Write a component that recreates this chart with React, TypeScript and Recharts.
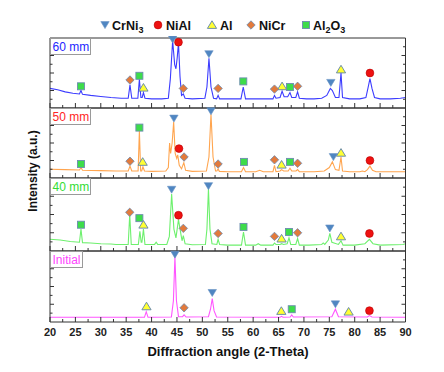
import React from 'react';
import { ComposedChart, Line, Scatter, XAxis, YAxis } from 'recharts';

type P = [number, number];

const FONT = "Arial, 'Liberation Sans', Helvetica, sans-serif";
const FRAME = '#333333';

const xTicks = [20, 22.5, 25, 27.5, 30, 32.5, 35, 37.5, 40, 42.5, 45, 47.5, 50, 52.5, 55, 57.5, 60, 62.5, 65, 67.5, 70, 72.5, 75, 77.5, 80, 82.5, 85, 87.5, 90];
const yTicks = [0.125, 0.25, 0.375, 0.5, 0.625, 0.75, 0.875];

const panelNames = ['60 mm', '50 mm', '40 mm', 'Initial'];
const lineColors = ['#3c3cff', '#ffa54f', '#6ef06e', '#ff55ff'];
const labelColors = ['#2424ff', '#ff2424', '#33dd33', '#ff44ff'];
const panelTops = [38, 108, 178, 251];
const panelHeights = [70, 70, 73, 71];
const labelBoxWidths = [40, 40, 40, 32];

const phaseNames = ['CrNi3', 'NiAl', 'Al', 'NiCr', 'Al2O3'];

// ---- XRD patterns (2θ, normalized intensity within panel) ----
const line60: P[] = [
  [20, 0.28], [21.5, 0.26], [23, 0.23], [24.5, 0.21], [25.8, 0.2], [26.1, 0.25], [26.4, 0.195], [28, 0.18], [30, 0.165], [32, 0.15], [34, 0.14],
  [35.4, 0.14], [35.75, 0.33], [36.1, 0.14], [37.3, 0.14], [37.6, 0.41], [37.9, 0.15], [38.15, 0.15], [38.4, 0.22], [38.7, 0.14],
  [40, 0.13], [42, 0.13], [43.3, 0.14], [43.7, 0.42], [44.15, 0.96], [44.55, 0.62], [44.8, 0.56], [45.05, 0.72], [45.3, 0.93], [45.6, 0.45],
  [45.9, 0.18], [46.25, 0.2], [46.6, 0.14], [48, 0.13], [50.5, 0.14], [50.9, 0.3], [51.3, 0.71], [51.7, 0.3], [52.2, 0.14], [52.8, 0.13],
  [53.1, 0.18], [53.4, 0.13], [55, 0.13], [57.6, 0.13], [58.05, 0.3], [58.5, 0.13], [60, 0.13], [62, 0.13], [63.9, 0.13], [64.2, 0.18],
  [64.5, 0.14], [65.3, 0.15], [65.7, 0.24], [66.1, 0.16], [66.8, 0.16], [67.25, 0.22], [67.6, 0.15], [68.4, 0.15], [68.75, 0.23], [69.1, 0.14],
  [70.5, 0.13], [72, 0.13], [73.5, 0.14], [74.5, 0.18], [75.2, 0.28], [75.6, 0.25], [76.2, 0.15], [76.9, 0.15], [77.3, 0.5], [77.6, 0.15],
  [79, 0.13], [81, 0.13], [82.2, 0.15], [82.6, 0.28], [83, 0.42], [83.4, 0.28], [83.9, 0.15], [85, 0.13], [87, 0.13], [89, 0.14], [90, 0.15],
];
const line50: P[] = [
  [20, 0.125], [23, 0.12], [25.8, 0.115], [26.1, 0.15], [26.4, 0.11], [30, 0.105], [33, 0.1], [35.4, 0.1], [35.75, 0.17], [36.1, 0.1],
  [37.35, 0.1], [37.6, 0.67], [37.85, 0.1], [38.05, 0.1], [38.3, 0.16], [38.6, 0.1], [40, 0.095], [42.8, 0.1], [43.3, 0.15], [43.55, 0.5],
  [43.75, 0.35], [44.05, 0.5], [44.35, 0.8], [44.65, 0.35], [44.95, 0.28], [45.15, 0.33], [45.45, 0.18], [45.9, 0.13], [46.35, 0.22],
  [46.7, 0.11], [48, 0.095], [50.8, 0.1], [51.3, 0.3], [51.7, 0.91], [52.1, 0.3], [52.6, 0.1], [52.85, 0.1], [53.1, 0.13], [53.35, 0.095],
  [55, 0.09], [57.7, 0.09], [58.1, 0.15], [58.5, 0.09], [60.5, 0.09], [61.3, 0.11], [62, 0.09], [63.9, 0.09], [64.2, 0.18], [64.5, 0.09],
  [65.3, 0.1], [65.6, 0.12], [66, 0.1], [66.9, 0.1], [67.25, 0.14], [67.6, 0.1], [68.45, 0.1], [68.75, 0.12], [69.1, 0.09], [72, 0.09],
  [74, 0.1], [75, 0.15], [75.6, 0.23], [76.2, 0.12], [76.9, 0.11], [77.3, 0.3], [77.6, 0.1], [79, 0.09], [81, 0.09], [81.5, 0.1], [82, 0.09],
  [82.5, 0.12], [83, 0.17], [83.5, 0.11], [84.2, 0.09], [90, 0.09],
];
const line40: P[] = [
  [20, 0.16], [22, 0.15], [24, 0.13], [25.8, 0.12], [26.1, 0.3], [26.4, 0.115], [28, 0.11], [30, 0.1], [32, 0.095], [33, 0.09], [35.4, 0.09],
  [35.7, 0.5], [36, 0.09], [37.4, 0.09], [37.7, 0.27], [37.95, 0.12], [38.1, 0.12], [38.4, 0.3], [38.7, 0.09], [40.6, 0.09], [40.9, 0.12],
  [41.2, 0.09], [43, 0.09], [43.5, 0.2], [43.95, 0.78], [44.4, 0.3], [44.8, 0.18], [45.3, 0.43], [45.8, 0.22], [46, 0.14], [46.25, 0.21],
  [46.6, 0.1], [48, 0.085], [50.6, 0.09], [50.9, 0.3], [51.2, 0.85], [51.5, 0.3], [51.9, 0.1], [52.85, 0.09], [53.1, 0.16], [53.4, 0.09],
  [55, 0.08], [57.7, 0.08], [58.1, 0.26], [58.5, 0.08], [60.5, 0.08], [61, 0.1], [61.5, 0.08], [63.9, 0.08], [64.2, 0.11], [64.5, 0.09],
  [65.3, 0.09], [65.6, 0.1], [66, 0.09], [66.7, 0.1], [67.06, 0.18], [67.4, 0.09], [68.4, 0.09], [68.75, 0.17], [69.1, 0.08], [71, 0.08],
  [73.5, 0.09], [73.8, 0.11], [74.1, 0.09], [74.8, 0.15], [75.1, 0.24], [75.5, 0.12], [76.8, 0.09], [77.3, 0.14], [77.7, 0.08], [80, 0.08],
  [82, 0.1], [82.9, 0.16], [83.6, 0.1], [85, 0.08], [89.5, 0.09], [90, 0.1],
];
const lineInitial: P[] = [
  [20, 0.066], [38.6, 0.066], [38.95, 0.145], [39.3, 0.066], [43.9, 0.07], [44.3, 0.3], [44.6, 0.92], [44.9, 0.3], [45.3, 0.075], [46.1, 0.075],
  [46.4, 0.1], [46.8, 0.07], [51.2, 0.075], [51.6, 0.18], [51.95, 0.33], [52.3, 0.16], [52.8, 0.07], [65.3, 0.066], [65.55, 0.08], [65.9, 0.066],
  [67.3, 0.07], [67.6, 0.1], [67.9, 0.07], [75.5, 0.075], [76.2, 0.18], [76.8, 0.075], [82.5, 0.07], [82.9, 0.09], [83.4, 0.07], [90, 0.066],
];

// ---- phase markers per panel ----
const crni3_60: P[] = [[44.15, 0.98], [51.3, 0.77], [75.3, 0.36]];
const nial_60: P[] = [[45.3, 0.94], [83.0, 0.5]];
const al_60: P[] = [[38.4, 0.29], [65.7, 0.31], [77.3, 0.55]];
const nicr_60: P[] = [[35.75, 0.4], [46.25, 0.28], [53.1, 0.28], [64.2, 0.27], [68.75, 0.31]];
const al2o3_60: P[] = [[26.1, 0.31], [37.6, 0.46], [58.06, 0.38], [67.25, 0.3]];

const crni3_50: P[] = [[44.4, 0.85], [51.7, 0.955], [75.8, 0.3]];
const nial_50: P[] = [[45.4, 0.42], [83.0, 0.25]];
const al_50: P[] = [[38.25, 0.23], [65.6, 0.19], [77.3, 0.36]];
const nicr_50: P[] = [[35.75, 0.24], [46.4, 0.3], [53.1, 0.2], [64.2, 0.26], [68.75, 0.21]];
const al2o3_50: P[] = [[26.1, 0.2], [37.6, 0.72], [58.2, 0.23], [67.25, 0.23]];

const crni3_40: P[] = [[43.95, 0.84], [51.2, 0.89], [75.1, 0.31]];
const nial_40: P[] = [[45.3, 0.49], [82.9, 0.24]];
const al_40: P[] = [[38.4, 0.36], [65.6, 0.17], [77.3, 0.2]];
const nicr_40: P[] = [[35.7, 0.53], [46.25, 0.31], [53.1, 0.24], [64.2, 0.2], [68.75, 0.25]];
const al2o3_40: P[] = [[26.1, 0.36], [37.6, 0.45], [58.1, 0.33], [67.06, 0.26]];

const crni3_init: P[] = [[44.6, 0.95], [51.95, 0.41], [76.2, 0.25]];
const nial_init: P[] = [[82.9, 0.16]];
const al_init: P[] = [[39.0, 0.22], [65.55, 0.155], [78.8, 0.145]];
const nicr_init: P[] = [[46.4, 0.2]];
const al2o3_init: P[] = [[67.6, 0.18]];

const panelLines = [line60, line50, line40, lineInitial];
const panelMarkers: P[][][] = [
  [crni3_60, nial_60, al_60, nicr_60, al2o3_60],
  [crni3_50, nial_50, al_50, nicr_50, al2o3_50],
  [crni3_40, nial_40, al_40, nicr_40, al2o3_40],
  [crni3_init, nial_init, al_init, nicr_init, al2o3_init],
];

const toObj = (arr: P[]) => arr.map(([x, y]) => ({ x, y }));

// ---- marker shapes ----
const MarkerShape = ({ phase, cx, cy }: { phase: number; cx: number; cy: number }) => {
  if (cx == null || cy == null) return null;
  switch (phase) {
    case 0:
      return <polygon points={`${cx - 4.2},${cy - 3.4} ${cx + 4.2},${cy - 3.4} ${cx},${cy + 3.6}`} fill="#4f86c2" stroke="#6a94c4" strokeWidth={0.6} />;
    case 1:
      return <circle cx={cx} cy={cy} r={3.9} fill="#ee1111" stroke="#b80000" strokeWidth={0.6} />;
    case 2:
      return <polygon points={`${cx},${cy - 4.2} ${cx + 4.6},${cy + 3.4} ${cx - 4.6},${cy + 3.4}`} fill="#ffff33" stroke="#5d82ab" strokeWidth={0.9} />;
    case 3:
      return <polygon points={`${cx},${cy - 4.2} ${cx + 4.2},${cy} ${cx},${cy + 4.2} ${cx - 4.2},${cy}`} fill="#e27a3c" stroke="#6d8cb0" strokeWidth={0.8} />;
    default:
      return <rect x={cx - 3.5} y={cy - 3.5} width={7} height={7} fill="#3ddc4a" stroke="#6d8cb0" strokeWidth={0.9} />;
  }
};

// ---- ticks ----
const isMajorX = (v: number) => Math.abs(v / 5 - Math.round(v / 5)) < 1e-6;
const isMajorY = (v: number) => Math.abs(v * 4 - Math.round(v * 4)) < 1e-6;

const XTickBottom = (props: any) => {
  const { x, y, payload, showLabel } = props;
  const major = isMajorX(payload.value);
  return (
    <g>
      <line x1={x} x2={x} y1={y} y2={y - (major ? 5 : 3)} stroke={FRAME} strokeWidth={1} />
      {showLabel && major ? (
        <text x={x} y={y + 14} textAnchor="middle" fontSize={11} fontWeight="bold" fill="#222" fontFamily={FONT}>
          {payload.value}
        </text>
      ) : null}
    </g>
  );
};
const XTickTop = (props: any) => {
  const { x, y, payload } = props;
  const major = isMajorX(payload.value);
  return <line x1={x} x2={x} y1={y} y2={y + (major ? 5 : 3)} stroke={FRAME} strokeWidth={1} />;
};
const YTickLeft = (props: any) => {
  const { x, y, payload } = props;
  const major = isMajorY(payload.value);
  return <line x1={x} x2={x + (major ? 4 : 2.5)} y1={y} y2={y} stroke={FRAME} strokeWidth={1} />;
};
const YTickRight = (props: any) => {
  const { x, y, payload } = props;
  const major = isMajorY(payload.value);
  return <line x1={x} x2={x - (major ? 4 : 2.5)} y1={y} y2={y} stroke={FRAME} strokeWidth={1} />;
};

const Panel = ({ index }: { index: number }) => {
  const h = panelHeights[index];
  const last = index === 3;
  const extra = last ? 48 : 0;
  const lineData = toObj(panelLines[index]);
  return (
    <div style={{ position: 'absolute', left: 0, top: panelTops[index] - 2 }}>
      <ComposedChart width={444} height={h + 4 + extra} margin={{ top: 1, right: 37.5, bottom: 1 + extra, left: 49 }}>
        <XAxis
          xAxisId="b" type="number" dataKey="x" domain={[20, 90]} ticks={xTicks} interval={0}
          height={1} tickSize={0} tickMargin={0} tickLine={false}
          axisLine={{ stroke: FRAME, strokeWidth: 1 }}
          tick={(p: any) => <XTickBottom {...p} showLabel={last} />}
        />
        <XAxis
          xAxisId="t" orientation="top" type="number" domain={[20, 90]} allowDataOverflow ticks={xTicks} interval={0}
          height={1} tickSize={0} tickMargin={0} tickLine={false}
          axisLine={{ stroke: FRAME, strokeWidth: 1 }}
          tick={(p: any) => <XTickTop {...p} />}
        />
        <YAxis
          yAxisId="l" type="number" dataKey="y" domain={[0, 1]} ticks={yTicks} interval={0}
          width={1} tickSize={0} tickMargin={0} tickLine={false}
          axisLine={{ stroke: FRAME, strokeWidth: 1 }}
          tick={(p: any) => <YTickLeft {...p} />}
        />
        <YAxis
          yAxisId="r" orientation="right" type="number" domain={[0, 1]} allowDataOverflow ticks={yTicks} interval={0}
          width={1} tickSize={0} tickMargin={0} tickLine={false}
          axisLine={{ stroke: FRAME, strokeWidth: 1 }}
          tick={(p: any) => <YTickRight {...p} />}
        />
        <Line
          xAxisId="b" yAxisId="l" data={lineData} dataKey="y" type="linear"
          stroke={lineColors[index]} strokeWidth={1.1} dot={false} isAnimationActive={false}
        />
        {panelMarkers[index].map((m, k) => (
          <Scatter
            key={phaseNames[k]} xAxisId="b" yAxisId="l" data={toObj(m)} dataKey="y"
            isAnimationActive={false}
            shape={(p: any) => <MarkerShape phase={k} cx={p.cx} cy={p.cy} />}
          />
        ))}
      </ComposedChart>
    </div>
  );
};

const legendMarkerX = [105, 158, 212, 251, 306];
const legendTextX = [112, 166, 220, 259, 313];

const Overlay = () => (
  <svg width={444} height={372} style={{ position: 'absolute', left: 0, top: 0, pointerEvents: 'none' }}>
    {phaseNames.map((n, k) => (
      <g key={n}>
        <MarkerShape phase={k} cx={legendMarkerX[k]} cy={25} />
        <text x={legendTextX[k]} y={29.5} fontSize={12.5} fontWeight="bold" fill="#111" fontFamily={FONT}>
          {k === 0 ? (<>CrNi<tspan fontSize={9} dy={3}>3</tspan></>) : k === 4 ? (<>Al<tspan fontSize={9} dy={3}>2</tspan><tspan dy={-3}>O</tspan><tspan fontSize={9} dy={3}>3</tspan></>) : n}
        </text>
      </g>
    ))}
    {panelNames.map((n, i) => (
      <g key={n}>
        <rect x={50.5} y={panelTops[i] + 0.5} width={labelBoxWidths[i]} height={16} fill="#ffffff" stroke="#9a9a9a" strokeWidth={1} />
        <text x={52.5} y={panelTops[i] + 12.5} fontSize={12} fill={labelColors[i]} fontFamily={FONT}>{n}</text>
      </g>
    ))}
    <text x={228} y={356} textAnchor="middle" fontSize={13} fontWeight="bold" fill="#111" fontFamily={FONT}>
      Diffraction angle (2-Theta)
    </text>
    <text x={37} y={171} transform="rotate(-90 37 171)" textAnchor="middle" fontSize={12} fontWeight="bold" fill="#111" fontFamily={FONT}>
      Intensity (a.u.)
    </text>
  </svg>
);

export default function App() {
  return (
    <div style={{ position: 'absolute', left: 0, top: 0, width: 444, height: 372, background: '#ffffff', overflow: 'hidden' }}>
      {[0, 1, 2, 3].map((i) => (
        <Panel key={i} index={i} />
      ))}
      <Overlay />
    </div>
  );
}
